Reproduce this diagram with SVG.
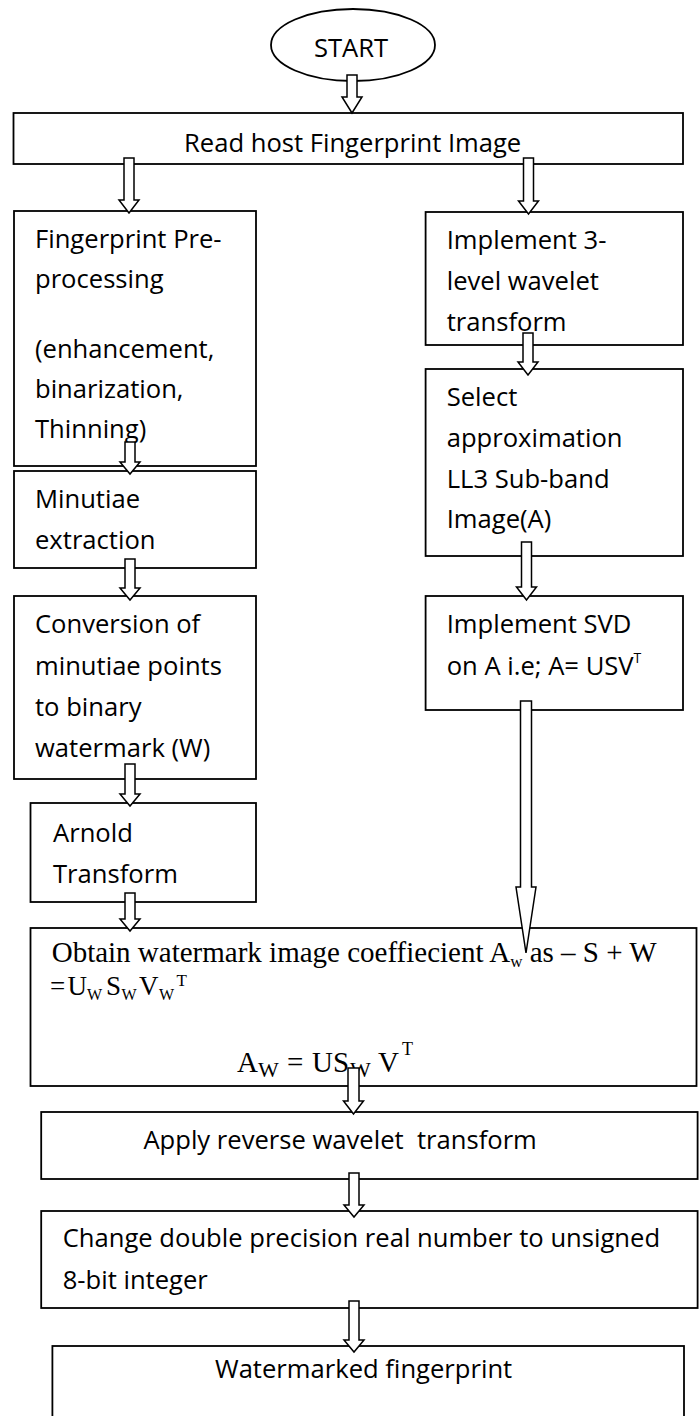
<svg xmlns="http://www.w3.org/2000/svg" width="699" height="1416" viewBox="0 0 699 1416">
<style>
.box{fill:#fff;stroke:#000;stroke-width:1.8}
.arr{fill:#fff;stroke:#000;stroke-width:1.5;stroke-linejoin:miter}
.t{font-family:"Open Sans","Liberation Sans",sans-serif;font-size:25.6px;fill:#000}
.tm{font-family:"Liberation Serif","Times New Roman",serif;font-size:29px;fill:#000}
.tm2{font-family:"Liberation Serif","Times New Roman",serif;font-size:27px;fill:#000}
</style>
<rect width="699" height="1416" fill="#fff"/>
<g id="start">
<ellipse class="box" cx="353" cy="45" rx="82" ry="36"/>
<text class="t" x="351" y="57" text-anchor="middle">START</text>
</g>
<g id="read">
<rect class="box" x="13.5" y="113" width="669.5" height="51"/>
<text class="t" x="184" y="151.5">Read host Fingerprint Image</text>
</g>
<g id="preprocess">
<rect class="box" x="14" y="211" width="242" height="255"/>
<text class="t" x="35" y="248">Fingerprint Pre-</text>
<text class="t" x="35" y="288">processing</text>
<text class="t" x="35" y="358">(enhancement,</text>
<text class="t" x="35" y="398">binarization,</text>
<text class="t" x="35" y="438">Thinning)</text>
</g>
<g id="wavelet">
<rect class="box" x="425.6" y="212" width="257.4" height="133"/>
<text class="t" x="446.7" y="249">Implement 3-</text>
<text class="t" x="446.7" y="290">level wavelet</text>
<text class="t" x="446.7" y="331">transform</text>
</g>
<g id="minutiae">
<rect class="box" x="14" y="471" width="242" height="97"/>
<text class="t" x="35" y="508">Minutiae</text>
<text class="t" x="35" y="549">extraction</text>
</g>
<g id="select">
<rect class="box" x="425.6" y="369" width="257.4" height="187"/>
<text class="t" x="446.7" y="406">Select</text>
<text class="t" x="446.7" y="447">approximation</text>
<text class="t" x="446.7" y="488">LL3 Sub-band</text>
<text class="t" x="446.7" y="528">Image(A)</text>
</g>
<g id="conversion">
<rect class="box" x="14" y="596" width="242" height="183"/>
<text class="t" x="35" y="633">Conversion of</text>
<text class="t" x="35" y="675">minutiae points</text>
<text class="t" x="35" y="716">to binary</text>
<text class="t" x="35" y="757">watermark (W)</text>
</g>
<g id="svd">
<rect class="box" x="425.6" y="596" width="257.4" height="114"/>
<text class="t" x="446.7" y="633">Implement SVD</text>
<text class="t" x="446.7" y="675">on A i.e; A= USV<tspan font-size="14" dy="-12">T</tspan></text>
</g>
<g id="arnold">
<rect class="box" x="30.5" y="803" width="225.5" height="99"/>
<text class="t" x="53" y="842">Arnold</text>
<text class="t" x="53" y="883">Transform</text>
</g>
<g id="obtain">
<rect class="box" x="30.5" y="928" width="666" height="158"/>
<text class="tm" x="51.7" y="962">Obtain watermark image coeffiecient A<tspan font-size="17" dy="5">w</tspan><tspan dy="-5"> as – S + W</tspan></text>
<text class="tm2" y="995"><tspan x="50">=</tspan><tspan x="67.5">U</tspan><tspan x="87" dy="5" font-size="16">W</tspan><tspan x="106" dy="-5">S</tspan><tspan x="121.5" dy="5" font-size="16">W</tspan><tspan x="139" dy="-5">V</tspan><tspan x="159" dy="5" font-size="16">W</tspan><tspan x="176.5" dy="-14" font-size="17">T</tspan></text>
<text class="tm" y="1072"><tspan x="237">A</tspan><tspan x="258" dy="5" font-size="22">W</tspan><tspan x="287" dy="-5">=</tspan><tspan x="312">US</tspan><tspan x="350" dy="5" font-size="22">W</tspan><tspan x="378" dy="-5">V</tspan><tspan x="402" dy="-17" font-size="18">T</tspan></text>
</g>
<g id="reverse">
<rect class="box" x="41.2" y="1112" width="656.4" height="67"/>
<text class="t" x="143.4" y="1149" xml:space="preserve">Apply reverse wavelet  transform</text>
</g>
<g id="convert8bit">
<rect class="box" x="41.2" y="1211" width="656.4" height="97"/>
<text class="t" x="62.7" y="1247">Change double precision real number to unsigned</text>
<text class="t" x="62.7" y="1289">8-bit integer</text>
</g>
<g id="watermarked">
<rect class="box" x="52.4" y="1346" width="631.6" height="80"/>
<text class="t" x="215" y="1378">Watermarked fingerprint</text>
</g>
<g id="connectors">
<path class="arr" d="M347,75 H357 V97 H362 L352,113 L342,97 H347 Z"/>
<path class="arr" d="M124,158 H134 V200 H139 L129,213 L119,200 H124 Z"/>
<path class="arr" d="M523.5,158 H533.5 V201 H538.5 L528.5,214 L518.5,201 H523.5 Z"/>
<path class="arr" d="M125,442 H135 V462 H140 L130,474 L120,462 H125 Z"/>
<path class="arr" d="M523,333 H533 V362 H538 L528,375 L518,362 H523 Z"/>
<path class="arr" d="M125,559 H135 V588 H140 L130,600 L120,588 H125 Z"/>
<path class="arr" d="M521.5,542 H531.5 V587 H536.5 L526.5,600 L516.5,587 H521.5 Z"/>
<path class="arr" d="M125,764 H135 V794 H140 L130,806 L120,794 H125 Z"/>
<path class="arr" d="M520.5,701 H531.5 V887 H536 L526,953 L516,887 H520.5 Z"/>
<path class="arr" d="M125,893 H135 V919 H140 L130,931 L120,919 H125 Z"/>
<path class="arr" d="M348,1068 H359 V1101 H363.5 L353.5,1114 L343.5,1101 H348 Z"/>
<path class="arr" d="M349,1173 H359 V1205 H364 L354,1217 L344,1205 H349 Z"/>
<path class="arr" d="M349,1301 H359 V1340 H364 L354,1352 L344,1340 H349 Z"/>
</g>
</svg>
